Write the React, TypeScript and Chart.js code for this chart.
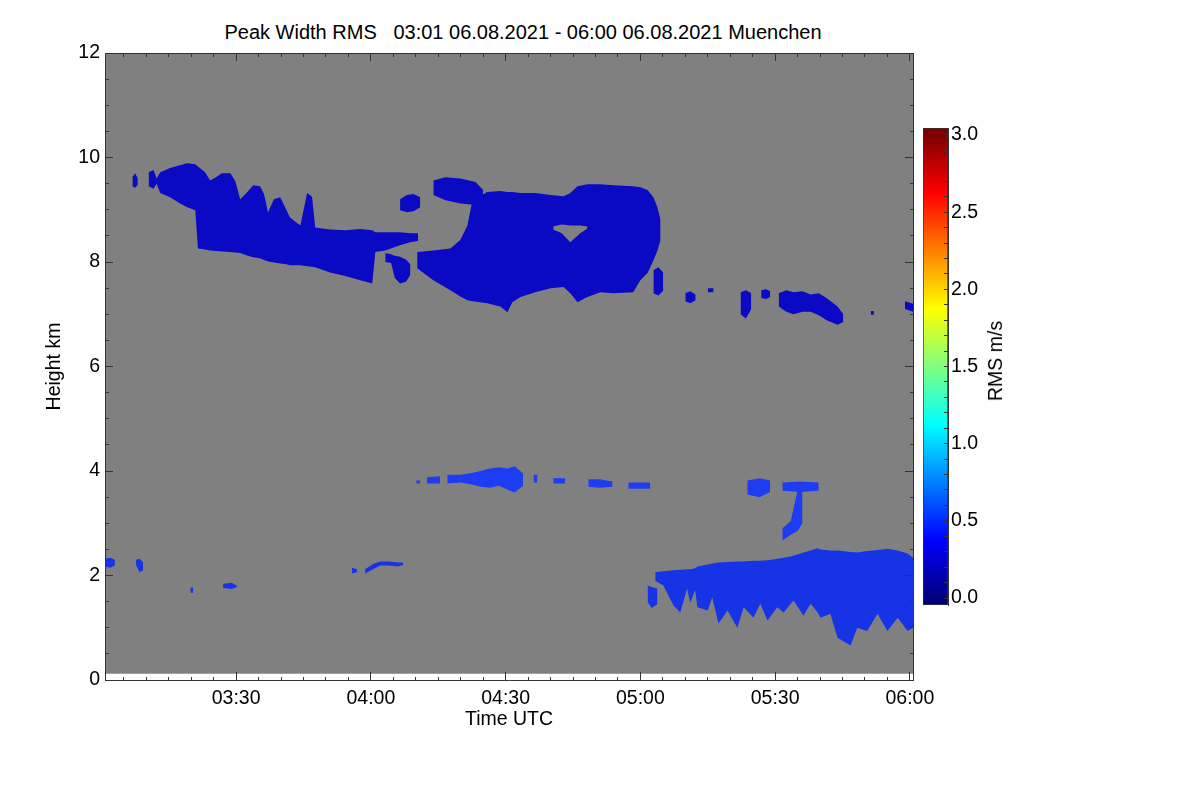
import { useEffect, useRef } from 'react'
import { Chart, registerables } from 'chart.js'

Chart.register(...registerables)

const FONT = '"Liberation Sans", Arial, Helvetica, sans-serif'
Chart.defaults.font.family = FONT
Chart.defaults.font.size = 19.5
Chart.defaults.color = '#000'

// time axis in minutes after 00:00 UTC
const timeMin = 180.8
const timeMax = 360.7
const timeTickMinutes = [210, 240, 270, 300, 330, 360]
const timeTickLabels = ['03:30', '04:00', '04:30', '05:00', '05:30', '06:00']
const heightTickValues = [0, 2, 4, 6, 8, 10, 12]
const heightTickLabels = ['0', '2', '4', '6', '8', '10', '12']
const rmsTickValues = [0, 0.5, 1, 1.5, 2, 2.5, 3]
const rmsTickLabels = ['0.0', '0.5', '1.0', '1.5', '2.0', '2.5', '3.0']
const rmsRange = [-0.045, 3.045]

// measured height range (grey = no signal)
const signalBase = 0.12
const signalTop = 12

// echo patches: [minute, base km, top km]
const cirrusWest = [
  [190.5, 9.45, 9.72], [191.6, 9.40, 9.76], [192.3, 9.50, 9.60], [193.1, 9.32, 9.72],
  [195.3, 9.24, 9.80], [197.5, 9.12, 9.85], [199.1, 9.05, 9.89], [200.9, 8.99, 9.87],
  [201.5, 8.26, 9.83], [203.1, 8.24, 9.72], [204.2, 8.22, 9.56], [205.5, 8.21, 9.62],
  [206.8, 8.20, 9.70], [208.7, 8.19, 9.70], [209.8, 8.18, 9.55], [210.9, 8.17, 9.20],
  [212.6, 8.12, 9.35], [213.8, 8.09, 9.47], [215.3, 8.07, 9.45], [216.2, 8.04, 9.30],
  [217.1, 8.01, 8.95], [218.4, 7.99, 9.20], [219.8, 7.97, 9.24], [220.9, 7.96, 9.05],
  [222.0, 7.94, 8.85], [224.3, 7.94, 8.70], [225.8, 7.92, 9.32], [226.9, 7.91, 9.25],
  [227.6, 7.90, 8.66], [230.9, 7.80, 8.62], [234.3, 7.73, 8.61], [237.6, 7.65, 8.63],
  [240.3, 7.59, 8.61], [241.0, 8.19, 8.57], [243.2, 8.22, 8.57], [246.5, 8.32, 8.57],
  [248.8, 8.38, 8.55], [250.5, 8.40, 8.55],
]
const cirrusSpeckLeft = [[186.9, 9.45, 9.62], [187.5, 9.42, 9.70], [188.1, 9.48, 9.60]]
const cirrusStreak = [
  [243.2, 8.00, 8.17], [244.5, 7.98, 8.15], [245.3, 7.70, 8.12],
  [246.5, 7.59, 8.10], [247.8, 7.62, 8.05], [248.8, 7.75, 7.95],
]
const cirrusSpeckMid = [[246.5, 8.99, 9.20], [248.0, 8.95, 9.28], [249.5, 8.97, 9.30], [251.0, 9.05, 9.24]]
const cirrusCap = [[253.9, 9.28, 9.56], [256.6, 9.18, 9.62], [259.9, 9.12, 9.60], [263.3, 9.09, 9.53], [265.0, 9.09, 9.38]]
const cirrusEast = [
  [250.3, 7.88, 8.19], [253.9, 7.65, 8.22], [257.7, 7.46, 8.26], [259.9, 7.34, 8.42],
  [261.5, 7.27, 8.70], [262.6, 7.25, 9.18], [265.9, 7.21, 9.34], [268.8, 7.15, 9.36],
  [270.4, 7.04, 9.34], [271.5, 7.23, 9.34], [273.3, 7.33, 9.32], [276.6, 7.42, 9.32],
  [280.0, 7.50, 9.28], [282.9, 7.52, 9.26], [284.4, 7.40, 9.32], [286.0, 7.23, 9.45],
  [288.2, 7.33, 9.49], [291.1, 7.42, 9.49], [294.0, 7.40, 9.47], [298.4, 7.42, 9.45],
  [300.0, 7.65, 9.43], [301.6, 7.79, 9.38], [302.9, 8.03, 9.24], [303.8, 8.22, 9.05],
  [304.5, 8.42, 8.80],
]
// clear gap inside the eastern cirrus
const cirrusEastGap = [[280.6, 8.62, 8.68], [282.5, 8.55, 8.72], [284.4, 8.38, 8.70], [286.6, 8.55, 8.70], [288.2, 8.64, 8.68]]

const speckC1 = [[302.9, 7.40, 7.84], [304.0, 7.36, 7.90], [305.1, 7.45, 7.80]]
const speckC2 = [[310.0, 7.25, 7.40], [311.1, 7.21, 7.44], [312.3, 7.27, 7.38]]
const speckC3 = [[315.0, 7.42, 7.50], [316.3, 7.42, 7.50]]
const speckC4 = [[322.3, 7.00, 7.42], [323.5, 6.92, 7.46], [324.7, 7.10, 7.40]]
const speckC5 = [[326.9, 7.31, 7.46], [328.0, 7.29, 7.48], [328.9, 7.33, 7.44]]
const speckC6 = [
  [330.8, 7.15, 7.40], [332.5, 7.05, 7.46], [334.1, 7.00, 7.42], [336.1, 7.05, 7.44],
  [337.9, 7.05, 7.38], [339.7, 6.98, 7.40], [341.6, 6.88, 7.30], [343.9, 6.80, 7.15],
  [345.2, 6.85, 7.00],
]
const speckC7 = [[351.3, 6.99, 7.06], [352.0, 6.99, 7.06]]
const speckC8 = [[358.9, 7.10, 7.25], [360.7, 7.05, 7.20]]

const midA = [[250.1, 3.76, 3.82], [251.0, 3.76, 3.82]]
const midB = [[252.5, 3.76, 3.88], [255.4, 3.76, 3.90]]
const midC = [
  [257.0, 3.76, 3.93], [260.0, 3.78, 3.93], [262.5, 3.74, 3.96], [264.4, 3.70, 4.00],
  [266.5, 3.68, 4.05], [268.5, 3.72, 4.07], [270.5, 3.64, 4.05], [272.0, 3.59, 4.09],
  [273.9, 3.72, 3.95],
]
const midD = [[276.2, 3.78, 3.93], [277.1, 3.78, 3.93]]
const midE = [[280.6, 3.76, 3.86], [283.3, 3.76, 3.86]]
const midF = [[288.4, 3.70, 3.84], [291.0, 3.68, 3.84], [293.8, 3.70, 3.80]]
const midG = [[297.3, 3.66, 3.78], [302.2, 3.66, 3.78]]
const midH = [[323.8, 3.55, 3.82], [326.5, 3.50, 3.86], [328.9, 3.60, 3.82]]
const midI = [[331.6, 3.62, 3.78], [335.6, 3.60, 3.80], [339.7, 3.62, 3.78]]
const midJ = [[331.6, 2.67, 2.90], [333.5, 2.78, 3.05], [335.0, 2.85, 3.63], [336.1, 3.00, 3.63]]

const lowLobe = [[301.6, 1.50, 1.81], [302.5, 1.38, 1.78], [303.8, 1.45, 1.75]]
const lowCloud = [
  [303.3, 1.90, 2.06], [305.1, 1.81, 2.08], [307.4, 1.42, 2.10], [308.9, 1.29, 2.11],
  [310.4, 1.75, 2.12], [311.1, 1.48, 2.12], [312.2, 1.72, 2.14], [312.7, 1.39, 2.17],
  [315.0, 1.33, 2.21], [316.0, 1.58, 2.23], [317.4, 1.08, 2.25], [319.4, 1.33, 2.26],
  [321.6, 1.00, 2.27], [323.0, 1.39, 2.27], [325.2, 1.19, 2.28], [326.7, 1.46, 2.28],
  [328.3, 1.14, 2.29], [330.5, 1.39, 2.32], [331.9, 1.29, 2.34], [334.1, 1.52, 2.38],
  [336.3, 1.23, 2.44], [337.9, 1.46, 2.48], [339.4, 1.30, 2.52], [340.1, 1.19, 2.50],
  [342.3, 1.27, 2.48], [343.9, 0.81, 2.48], [346.8, 0.66, 2.45], [348.3, 1.00, 2.44],
  [350.5, 0.94, 2.47], [352.8, 1.27, 2.49], [355.0, 0.94, 2.51], [357.3, 1.19, 2.48],
  [359.5, 0.94, 2.42], [360.7, 1.00, 2.34],
]
const lowSpeckA = [[180.8, 2.17, 2.32], [182.0, 2.15, 2.34], [183.0, 2.19, 2.30]]
const lowSpeckB = [[187.7, 2.20, 2.30], [188.5, 2.06, 2.32], [189.3, 2.10, 2.25]]
const lowSpeckC = [[199.8, 1.67, 1.77], [200.4, 1.67, 1.77]]
const lowSpeckD = [[207.1, 1.76, 1.84], [209.0, 1.74, 1.86], [210.2, 1.78, 1.80]]
const lowSpeckE = [[235.8, 2.04, 2.15], [236.9, 2.06, 2.12]]
const lowSpeckF = [
  [238.7, 2.04, 2.12], [240.5, 2.12, 2.22], [242.1, 2.19, 2.27],
  [244.0, 2.19, 2.27], [246.0, 2.17, 2.25], [247.2, 2.20, 2.25],
]

const upperPatches = [cirrusWest, cirrusSpeckLeft, cirrusStreak, cirrusSpeckMid, cirrusCap, cirrusEast,
  speckC1, speckC2, speckC3, speckC4, speckC5, speckC6, speckC7, speckC8]
const midPatches = [midA, midB, midC, midD, midE, midF, midG, midH, midI, midJ]
const lowPatches = [lowLobe, lowCloud, lowSpeckA, lowSpeckB, lowSpeckC, lowSpeckD, lowSpeckE, lowSpeckF]
const gapPatches = [cirrusEastGap]

// jet colour table for the colour bar
const jetStops: [number, string][] = [
  [0, '#00007f'], [0.125, '#0000ff'], [0.375, '#00ffff'],
  [0.625, '#ffff00'], [0.875, '#ff0000'], [1, '#7f0000'],
]

const near = (a: number, b: number) => Math.abs(a - b) < 1e-6

function patchDatasets(patches: number[][][], color: string, order = 0) {
  return patches.flatMap((p) => [
    {
      data: p.map(([t, b]) => ({ x: t, y: b })),
      borderWidth: 0, pointRadius: 0, fill: false, order,
    },
    {
      data: p.map(([t, , top]) => ({ x: t, y: top })),
      borderWidth: 0, pointRadius: 0, fill: '-1', backgroundColor: color, order,
    },
  ])
}

const minorTimes: number[] = []
for (let m = 185; m <= 360; m += 5) minorTimes.push(m)
const minorHeights: number[] = []
for (let i = 0; i <= 24; i++) minorHeights.push(i / 2)
const minorRms: number[] = []
for (let i = 0; i <= 30; i++) minorRms.push(i / 10)

const isMajorTime = (v: number) => timeTickMinutes.some((m) => near(m, v))
const isMajorHeight = (v: number) => heightTickValues.some((h) => near(h, v))

// ticks are drawn inward; dash keeps minor ticks short at the axis side
const dash = (isMajor: (v: number) => boolean, startsInside: boolean) => (ctx: any) =>
  isMajor(ctx.tick ? ctx.tick.value : 0) ? [] : startsInside ? [0, 4, 4, 100] : [4, 100]

export default function App() {
  const mainRef = useRef<HTMLCanvasElement>(null)
  const barRef = useRef<HTMLCanvasElement>(null)

  useEffect(() => {
    if (!mainRef.current || !barRef.current) return

    const axisLine = { color: '#333', width: 1, z: 1 }
    const tickGrid = (isMajor: (v: number) => boolean, inside: boolean) => ({
      drawOnChartArea: false, tickLength: -8, tickColor: '#333', tickWidth: 1,
      tickBorderDash: dash(isMajor, inside), z: 1,
    })

    const main = new Chart(mainRef.current, {
      type: 'line',
      data: {
        datasets: [
          ...patchDatasets(gapPatches, '#808080', -1),
          ...patchDatasets(upperPatches, '#0a0ac4'),
          ...patchDatasets(midPatches, '#1e3cf2'),
          ...patchDatasets(lowPatches, '#1634e6'),
          {
            data: [{ x: timeMin, y: signalTop }, { x: timeMax, y: signalTop }],
            borderWidth: 0, pointRadius: 0, fill: { value: signalBase },
            backgroundColor: '#808080', order: 1,
          },
        ] as any,
      },
      options: {
        responsive: false,
        devicePixelRatio: 1,
        animation: false,
        events: [],
        layout: { padding: { left: 35, right: 287, top: 53, bottom: 60 } },
        plugins: { legend: { display: false }, tooltip: { enabled: false } },
        scales: {
          x: {
            type: 'linear', position: 'bottom', min: timeMin, max: timeMax,
            afterBuildTicks: (s: any) => { s.ticks = minorTimes.map((v) => ({ value: v })) },
            afterFit: (s: any) => { s.height = 60 },
            ticks: {
              autoSkip: false, maxRotation: 0, padding: 15, z: 1,
              callback: (v: any) => {
                const i = timeTickMinutes.findIndex((m) => near(m, Number(v)))
                return i >= 0 ? timeTickLabels[i] : ''
              },
            },
            grid: tickGrid(isMajorTime, false),
            border: axisLine,
            title: { display: true, text: 'Time UTC', padding: { top: 0, bottom: 9 } },
          },
          x2: {
            type: 'linear', position: 'top', min: timeMin, max: timeMax,
            afterBuildTicks: (s: any) => { s.ticks = minorTimes.map((v) => ({ value: v })) },
            afterFit: (s: any) => { s.height = 0 },
            ticks: { display: false, autoSkip: false },
            grid: tickGrid(isMajorTime, true),
            border: axisLine,
          },
          y: {
            type: 'linear', position: 'left', min: 0, max: 12,
            afterBuildTicks: (s: any) => { s.ticks = minorHeights.map((v) => ({ value: v })) },
            afterFit: (s: any) => { s.width = 70 },
            ticks: {
              autoSkip: false, padding: 13, z: 1,
              callback: (v: any) => {
                const i = heightTickValues.findIndex((h) => near(h, Number(v)))
                return i >= 0 ? heightTickLabels[i] : ''
              },
            },
            grid: tickGrid(isMajorHeight, true),
            border: axisLine,
            title: { display: true, text: 'Height km', padding: { top: 8, bottom: 0 } },
          },
          y2: {
            type: 'linear', position: 'right', min: 0, max: 12,
            afterBuildTicks: (s: any) => { s.ticks = minorHeights.map((v) => ({ value: v })) },
            afterFit: (s: any) => { s.width = 0 },
            ticks: { display: false, autoSkip: false },
            grid: tickGrid(isMajorHeight, false),
            border: axisLine,
          },
        },
      } as any,
    })

    const bar = new Chart(barRef.current, {
      type: 'bar',
      data: {
        labels: ['RMS'],
        datasets: [
          {
            data: [rmsRange],
            barPercentage: 1,
            categoryPercentage: 1,
            borderWidth: 1,
            borderColor: '#333',
            borderSkipped: false,
            backgroundColor: (ctx: any) => {
              const chart = ctx.chart
              const ys = chart.scales.y
              if (!chart.chartArea || !ys) return '#0000ff'
              const g = chart.ctx.createLinearGradient(0, ys.getPixelForValue(0), 0, ys.getPixelForValue(3))
              jetStops.forEach(([f, c]) => g.addColorStop(f, c))
              return g
            },
          },
        ] as any,
      },
      options: {
        responsive: false,
        devicePixelRatio: 1,
        animation: false,
        events: [],
        layout: { padding: { left: 23, right: 0, top: 28, bottom: 35 } },
        plugins: { legend: { display: false }, tooltip: { enabled: false } },
        scales: {
          x: { type: 'category', display: false },
          y: {
            type: 'linear', position: 'right', min: rmsRange[0], max: rmsRange[1],
            afterBuildTicks: (s: any) => { s.ticks = minorRms.map((v) => ({ value: v })) },
            afterFit: (s: any) => { s.width = 92 },
            ticks: {
              autoSkip: false, padding: 7, z: 1,
              callback: (v: any) => {
                const i = rmsTickValues.findIndex((r) => near(r, Number(v)))
                return i >= 0 ? rmsTickLabels[i] : ''
              },
            },
            grid: { drawOnChartArea: false, tickLength: -4, tickColor: '#333', z: 1 },
            border: { color: '#333', width: 1, z: 1 },
          },
        },
      } as any,
    })

    return () => {
      main.destroy()
      bar.destroy()
    }
  }, [])

  return (
    <div style={{ position: 'fixed', left: 0, top: 0, width: 1200, height: 800, background: '#fff', fontFamily: FONT, color: '#000' }}>
      <div style={{ position: 'absolute', left: 523, top: 32, transform: 'translate(-50%, -50%)', whiteSpace: 'pre', fontSize: 20, lineHeight: '24px' }}>
        {'Peak Width RMS   03:01 06.08.2021 - 06:00 06.08.2021 Muenchen'}
      </div>
      <canvas ref={mainRef} width={1200} height={800} style={{ position: 'absolute', left: 0, top: 0, width: 1200, height: 800 }} />
      <canvas ref={barRef} width={140} height={540} style={{ position: 'absolute', left: 900, top: 100, width: 140, height: 540 }} />
      <div style={{ position: 'absolute', left: 995, top: 361, transform: 'translate(-50%, -50%) rotate(-90deg)', whiteSpace: 'nowrap', fontSize: 19.5, lineHeight: '24px' }}>
        RMS m/s
      </div>
    </div>
  )
}
